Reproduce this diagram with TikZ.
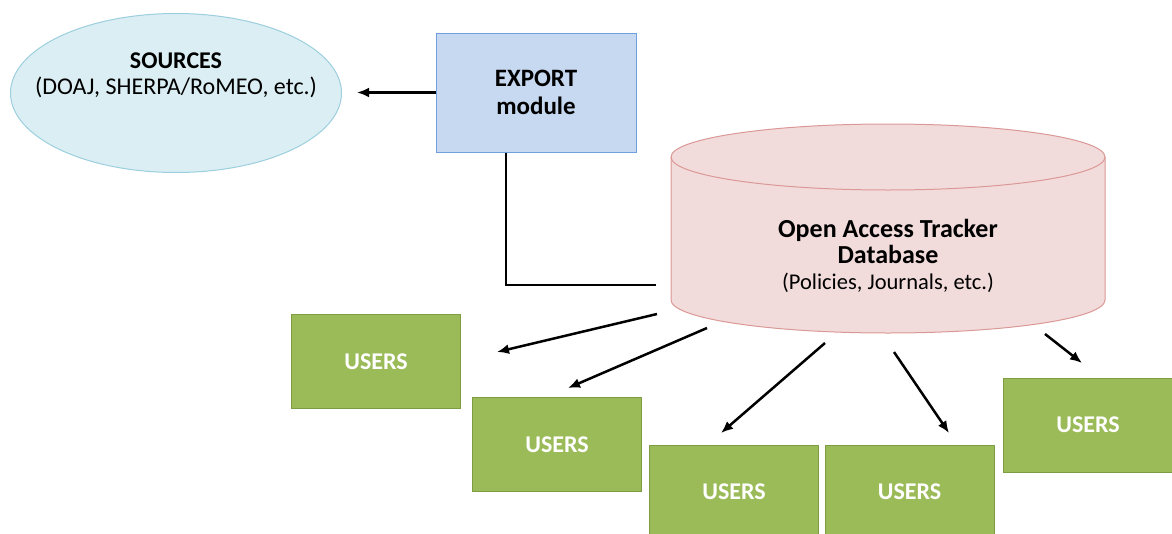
\documentclass[tikz,border=0pt]{standalone}
\usepackage{fontspec}
\setmainfont{Carlito}
\usepackage{tikz}
\usetikzlibrary{arrows,arrows.meta,shapes,positioning,calc}
\definecolor{srcfill}{HTML}{DAEEF3}
\definecolor{srcline}{HTML}{9CCFDE}
\definecolor{modfill}{HTML}{C6D9F1}
\definecolor{modline}{HTML}{6F9FDC}
\definecolor{dbfill}{HTML}{F2DCDB}
\definecolor{dbline}{HTML}{DA9896}
\definecolor{usrfill}{HTML}{9BBB59}
\definecolor{usrline}{HTML}{7E9D40}
\tikzstyle{source} = [draw=srcline, fill=srcfill, ellipse, line width=1pt,
    minimum width=331pt, minimum height=159pt, inner sep=0pt]
\tikzstyle{srctext} = [align=center, yshift=18pt]
\tikzstyle{module} = [draw=modline, fill=modfill, line width=1pt,
    minimum width=200pt, minimum height=119pt, align=center,
    font=\fontsize{25}{28}\selectfont\bfseries]
\tikzstyle{users} = [draw=usrline, fill=usrfill, line width=1pt,
    minimum width=169pt, minimum height=94pt, text=white, font=\bfseries]
\tikzstyle{link} = [line width=2.5pt, black]
\tikzstyle{arrow} = [link, -{Latex[length=12pt,width=10pt]}]

\begin{document}
\begin{tikzpicture}[x=1pt, y=1pt]
  \fontsize{24}{26}\selectfont
  \useasboundingbox (0,0) rectangle (1172,-533);
  \clip (0,0) rectangle (1172,-533);
  % sources and export module
  \node [source, label={[srctext]center:\textbf{SOURCES}\\(DOAJ, SHERPA/RoMEO, etc.)}]
    (src) at (176,-93) {};
  \node [module] (exp) at (536,-92.5) {EXPORT\\module};
  % database cylinder
  \draw [dbline, fill=dbfill, line width=1pt] (671,-157) -- (671,-300)
    arc (180:360:217pt and 33pt) -- (1105,-157) arc (0:180:217pt and 33pt) -- cycle;
  \draw [dbline, line width=1pt] (671,-157) arc (180:360:217pt and 33pt);
  \node [align=center] (db) at (888,-256)
    {\fontsize{26}{28}\selectfont\textbf{Open Access Tracker}\\
     \fontsize{26}{28}\selectfont\textbf{Database}\\
     \fontsize{22.5}{28}\selectfont(Policies, Journals, etc.)};
  % users
  \node [users] (u1) at (376,-361.5) {USERS};
  \node [users] (u2) at (557,-444.5) {USERS};
  \node [users] (u3) at (734,-492) {USERS};
  \node [users] (u4) at (909.5,-492) {USERS};
  \node [users] (u5) at (1088,-425) {USERS};
  % free ends of the connectors
  \coordinate (srcin) at (357,-92.5);
  \coordinate (dbin) at (656,-285);
  \coordinate (o1) at (657,-314);  \coordinate (t1) at (497,-352);
  \coordinate (o2) at (707,-328);  \coordinate (t2) at (568,-388);
  \coordinate (o3) at (825,-343);  \coordinate (t3) at (721,-433);
  \coordinate (o4) at (894,-352);  \coordinate (t4) at (949,-433);
  \coordinate (o5) at (1045,-334); \coordinate (t5) at (1082,-363);
  \draw [arrow] (exp.west) -- (srcin);
  \draw [link] ($(exp.south west)!0.35!(exp.south east)$) |- (dbin);
  \foreach \i in {1,...,5}
    \draw [arrow] (o\i) -- (t\i);
\end{tikzpicture}
\end{document}
